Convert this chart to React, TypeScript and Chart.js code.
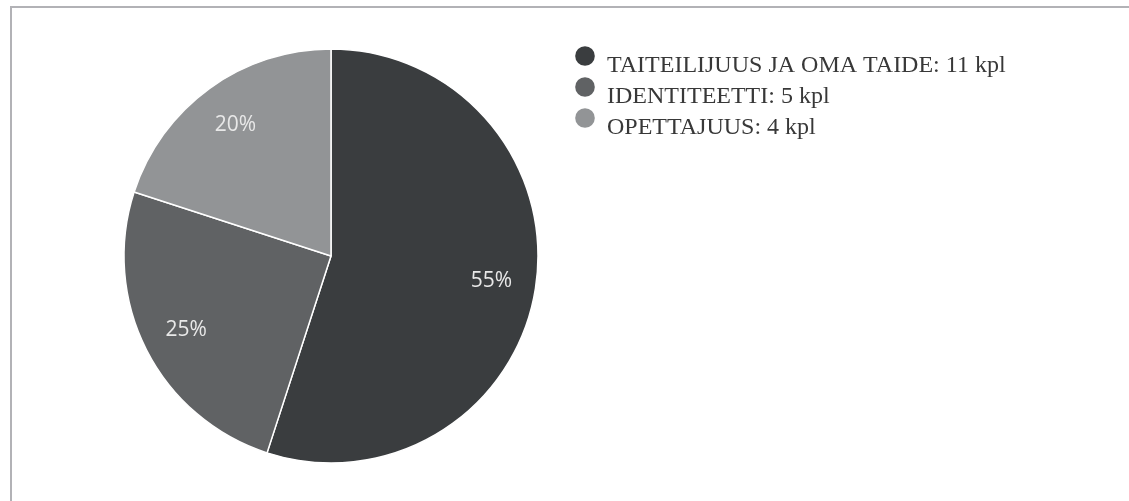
import React, { useEffect, useRef } from "react";
import { Chart, registerables } from "chart.js";

Chart.register(...registerables);

const categories = ["TAITEILIJUUS JA OMA TAIDE", "IDENTITEETTI", "OPETTAJUUS"];
const counts = [11, 5, 4];
const unit = "kpl";
const sliceColors = ["#3a3d3f", "#606264", "#929496"];

const pctLabels = {
  id: "pctLabels",
  afterDatasetsDraw(chart: any) {
    const { ctx } = chart;
    const meta = chart.getDatasetMeta(0);
    const data = chart.data.datasets[0].data as number[];
    const total = data.reduce((a, b) => a + b, 0);
    ctx.save();
    ctx.font = "21px 'Open Sans', 'Liberation Sans', sans-serif";
    ctx.fillStyle = "#e8e8e8";
    ctx.textAlign = "center";
    ctx.textBaseline = "middle";
    meta.data.forEach((arc: any, i: number) => {
      const p = arc.getProps(["x", "y", "startAngle", "endAngle", "outerRadius"], true);
      const mid = (p.startAngle + p.endAngle) / 2;
      const r = p.outerRadius * 0.785;
      const x = p.x + Math.cos(mid) * r;
      const y = p.y + Math.sin(mid) * r;
      ctx.fillText(Math.round((data[i] / total) * 100) + "%", x, y);
    });
    ctx.restore();
  },
};

const customLegend = {
  id: "customLegend",
  afterDraw(chart: any) {
    const { ctx } = chart;
    const labels = chart.data.labels as string[];
    const data = chart.data.datasets[0].data as number[];
    const colors = chart.data.datasets[0].backgroundColor as string[];
    ctx.save();
    labels.forEach((lab, i) => {
      const baseY = 72 + i * 31;
      ctx.beginPath();
      ctx.fillStyle = colors[i];
      ctx.arc(585, baseY - 16, 9.8, 0, Math.PI * 2);
      ctx.fill();
      ctx.fillStyle = "#383838";
      ctx.font = "24px 'Liberation Serif', 'DejaVu Serif', serif";
      ctx.textAlign = "left";
      ctx.textBaseline = "alphabetic";
      ctx.fillText(`${lab}: ${data[i]} ${unit}`, 607, baseY);
    });
    ctx.restore();
  },
};

export default function App() {
  const ref = useRef<HTMLCanvasElement | null>(null);
  useEffect(() => {
    document.body.style.margin = "0";
    if (!ref.current) return;
    const chart = new Chart(ref.current, {
      type: "pie",
      data: {
        labels: categories,
        datasets: [
          {
            data: counts,
            backgroundColor: sliceColors,
            borderColor: "#ffffff",
            borderWidth: 1.5,
            hoverOffset: 0,
          },
        ],
      },
      options: {
        responsive: false,
        animation: false,
        radius: 207,
        layout: { padding: { left: 113, right: 580, top: 38, bottom: 27 } },
        plugins: {
          legend: { display: false },
          tooltip: { enabled: false },
        },
      } as any,
      plugins: [pctLabels, customLegend],
    });
    return () => chart.destroy();
  }, []);
  return (
    <div style={{ position: "relative", width: 1129, height: 501, background: "#fff", overflow: "hidden" }}>
      <div
        style={{
          position: "absolute",
          left: 10,
          top: 6,
          width: 1200,
          height: 600,
          borderTop: "2px solid #b2b2b6",
          borderLeft: "2px solid #b2b2b6",
        }}
      />
      <canvas ref={ref} width={1129} height={501} style={{ position: "absolute", left: 0, top: 0 }} />
    </div>
  );
}
